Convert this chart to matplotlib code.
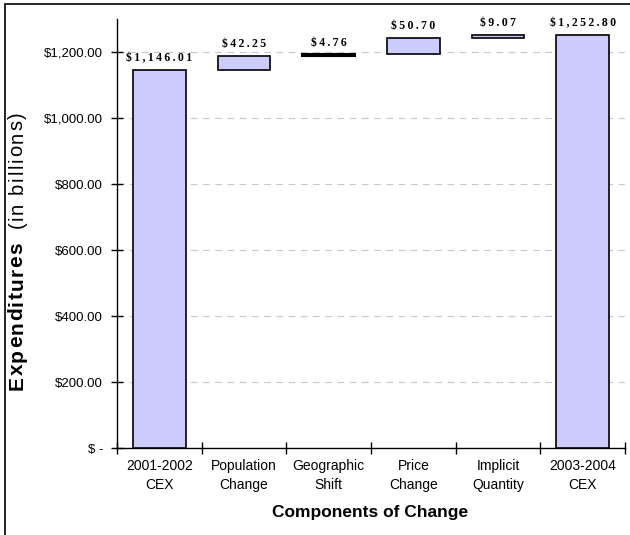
import matplotlib
matplotlib.use("Agg")
import matplotlib.pyplot as plt
from matplotlib.patches import Rectangle
import numpy as np

categories = ["2001-2002\nCEX", "Population\nChange", "Geographic\nShift",
              "Price\nChange", "Implicit\nQuantity", "2003-2004\nCEX"]
start_total = 1146.01
changes = [42.25, 4.76, 50.70, 9.07]
end_total = 1252.80
value_labels = ["$1,146.01", "$42.25", "$4.76", "$50.70", "$9.07", "$1,252.80"]
yticks = [0, 200, 400, 600, 800, 1000, 1200]
ytick_labels = ["$ -", "$200.00", "$400.00", "$600.00", "$800.00", "$1,000.00", "$1,200.00"]

# waterfall bottoms/heights
bottoms = [0.0]
heights = [start_total]
run = start_total
for c in changes:
    bottoms.append(run)
    heights.append(c)
    run += c
bottoms.append(0.0)
heights.append(end_total)

plt.rcParams['font.family'] = ['Liberation Sans', 'DejaVu Sans']

W, H = 630, 535


def spaced(s):
    return "\u2009".join(s)


fig = plt.figure(figsize=(W / 100, H / 100), dpi=100)
ax = fig.add_axes([117/W, 1-448/H, (625-117)/W, (448-19)/H])

x = np.arange(len(categories))
fill = "#CCCCFF"
for i in range(len(categories)):
    if heights[i] < 8:
        # very thin segment drawn as a heavy line
        ax.bar(x[i], heights[i], bottom=bottoms[i], width=0.62, color="black",
               edgecolor="black", linewidth=1.5, zorder=3)
    else:
        ax.bar(x[i], heights[i], bottom=bottoms[i], width=0.62, color=fill,
               edgecolor="black", linewidth=1.2, zorder=3)
    top = bottoms[i] + heights[i]
    ax.annotate(spaced(value_labels[i]), (x[i], top), xytext=(0, 4), textcoords="offset points",
                ha="center", va="bottom", fontsize=8.5, fontweight="bold",
                family=["Liberation Serif", "DejaVu Serif"])

ax.set_xlim(-0.5, len(categories) - 0.5)
ax.set_ylim(0, 1300)
ax.set_yticks(yticks)
ax.set_yticklabels(ytick_labels, fontsize=9.5)
ax.set_xticks(np.arange(len(categories) + 1) - 0.5)
ax.set_xticklabels([])
ax.set_xticks(x, minor=True)
ax.set_xticklabels(categories, minor=True, fontsize=10, linespacing=1.45)
ax.tick_params(axis='x', which='minor', length=0, pad=8)
ax.tick_params(axis='x', which='major', direction='inout', length=8, width=1)
ax.tick_params(axis='y', direction='inout', length=8, width=1, pad=6)

for y in yticks[1:]:
    ax.axhline(y, color="#c8c8c8", linestyle=(0, (6, 5)), linewidth=0.8, zorder=1)

for s in ["top", "right"]:
    ax.spines[s].set_visible(False)
ax.spines["left"].set_linewidth(1)
ax.spines["bottom"].set_linewidth(1)

fig.text(370/W, 1-513/H, "Components of Change", ha="center", va="center",
         fontsize=12.5, fontweight="bold")

renderer = fig.canvas.get_renderer()


def vertical_tracked(x_px, y_bottom_px, y_top_px, s, **kw):
    """Draw rotated text from y_bottom_px (from top) up to y_top_px with letter spacing."""
    def width(t):
        tt = fig.text(0, 0, t, **kw)
        e = tt.get_window_extent(renderer).width
        tt.remove()
        return e
    target = y_bottom_px - y_top_px
    natural = width(s)
    track = max((target - natural) / max(len(s) - 1, 1), 0)
    base = H - y_bottom_px
    for k, ch in enumerate(s):
        if ch == " ":
            continue
        start = width(s[:k + 1]) - width(ch) + k * track
        fig.text(x_px / W, (base + start) / H, ch, rotation=90, ha="center",
                 va="bottom", **kw)


vertical_tracked(17, 390, 242, "Expenditures", fontsize=15, fontweight="bold")
vertical_tracked(17, 228, 112, "(in billions)", fontsize=14.5)

# figure border
fig.patches.append(Rectangle((5/W, -0.05), 1.2, 1 - 4/H + 0.05, transform=fig.transFigure,
                             fill=False, edgecolor="black", linewidth=1.2))

fig.savefig("out.png", dpi=100)
